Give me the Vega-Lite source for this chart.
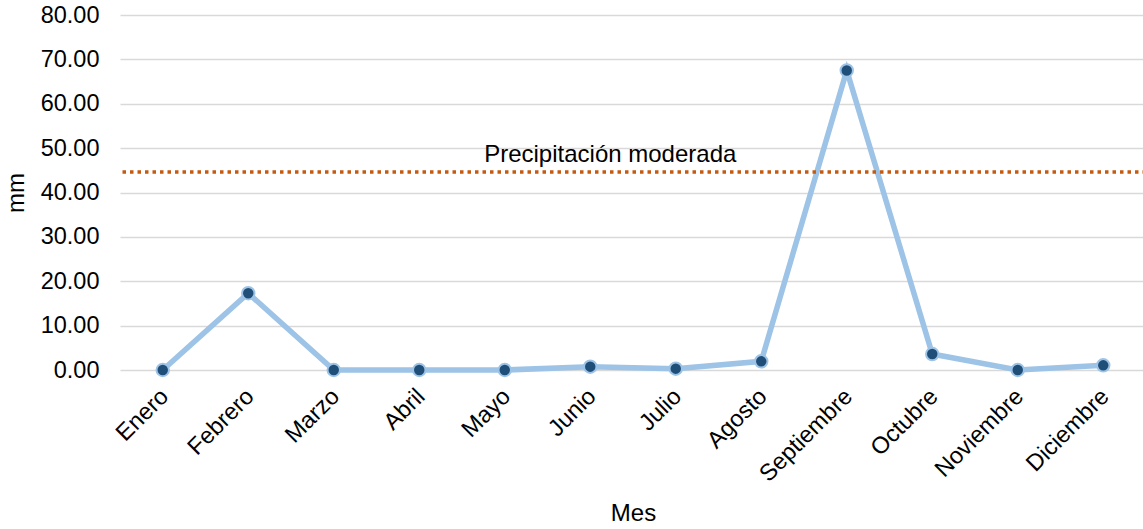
{
  "$schema": "https://vega.github.io/schema/vega-lite/v6.json",
  "width": 1026,
  "height": 355,
  "autosize": "none",
  "padding": {"left": 120, "top": 15, "right": 0, "bottom": 159},
  "background": "white",
  "config": {
    "view": {"stroke": null},
    "font": "Liberation Sans",
    "axis": {"labelFont": "Liberation Sans", "titleFont": "Liberation Sans", "labelColor": "#000000", "titleColor": "#000000", "titleFontWeight": "normal"}
  },
  "datasets": {
    "lluvia": [
      {"Mes": "Enero", "mm": 0.0},
      {"Mes": "Febrero", "mm": 17.3},
      {"Mes": "Marzo", "mm": 0.0},
      {"Mes": "Abril", "mm": 0.0},
      {"Mes": "Mayo", "mm": 0.0},
      {"Mes": "Junio", "mm": 0.75},
      {"Mes": "Julio", "mm": 0.3},
      {"Mes": "Agosto", "mm": 1.95},
      {"Mes": "Septiembre", "mm": 67.5},
      {"Mes": "Octubre", "mm": 3.6},
      {"Mes": "Noviembre", "mm": 0.0},
      {"Mes": "Diciembre", "mm": 1.05}
    ],
    "umbral": [
      {"etiqueta": "Precipitación moderada", "valor": 44.6, "Mes": "Junio"}
    ]
  },
  "layer": [
    {
      "data": {"name": "lluvia"},
      "mark": {"type": "line", "color": "#9DC3E6", "strokeWidth": 5.5},
      "encoding": {
        "x": {
          "field": "Mes", "type": "nominal", "sort": null,
          "axis": {"title": "Mes", "labelAngle": -45, "labelFontSize": 23.5, "titleFontSize": 24, "domain": false, "ticks": false, "labelPadding": 14, "labelOffset": -7, "titlePadding": 16, "grid": false, "labelOverlap": false}
        },
        "y": {
          "field": "mm", "type": "quantitative",
          "scale": {"domain": [0, 80]},
          "axis": {"title": "mm", "format": ".2f", "values": [0,10,20,30,40,50,60,70,80], "labelOverlap": false, "labelFontSize": 23.5, "titleFontSize": 24, "domain": false, "ticks": false, "labelPadding": 21, "titlePadding": 12, "gridColor": "#D9D9D9", "gridWidth": 1.5}
        }
      }
    },
    {
      "data": {"name": "lluvia"},
      "mark": {"type": "point", "filled": true, "fill": "#1F4E79", "stroke": "#9DC3E6", "strokeWidth": 2, "size": 155, "opacity": 1},
      "encoding": {
        "x": {"field": "Mes", "type": "nominal", "sort": null},
        "y": {"field": "mm", "type": "quantitative"}
      }
    },
    {
      "data": {"name": "umbral"},
      "mark": {"type": "rule", "color": "#C55A11", "strokeWidth": 3.5, "strokeDash": [3.5, 4]},
      "encoding": {
        "y": {"field": "valor", "type": "quantitative"}
      }
    },
    {
      "data": {"name": "umbral"},
      "mark": {"type": "text", "fontSize": 24, "color": "#000000", "baseline": "alphabetic", "align": "center", "dx": 20, "dy": -10},
      "encoding": {
        "x": {"field": "Mes", "type": "nominal", "sort": null},
        "y": {"field": "valor", "type": "quantitative"},
        "text": {"field": "etiqueta"}
      }
    }
  ]
}
